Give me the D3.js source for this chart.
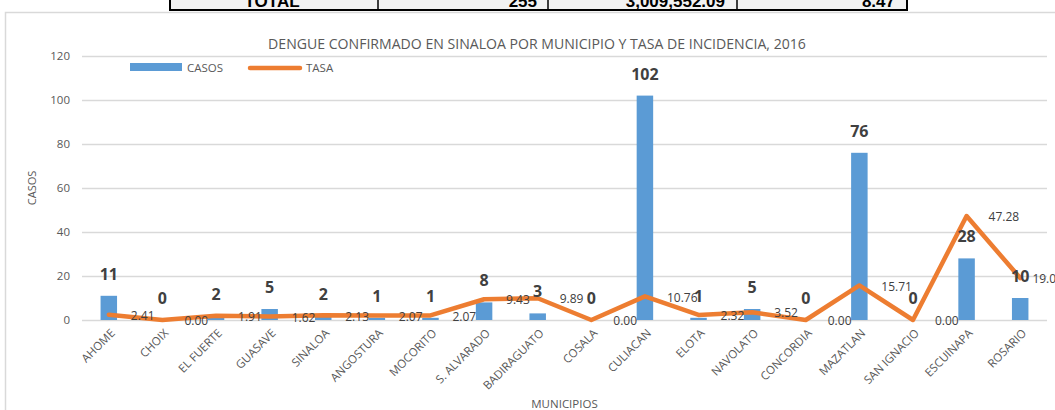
<!DOCTYPE html>
<html><head><meta charset="utf-8">
<script src="https://cdn.jsdelivr.net/npm/d3@7"></script>
<style>
html,body{margin:0;padding:0;background:#fff;}
svg{display:block;font-family:"Open Sans",sans-serif;}
</style></head>
<body>
<svg id="c" width="1055" height="410"></svg>
<script>
const categories = ["AHOME","CHOIX","EL FUERTE","GUASAVE","SINALOA","ANGOSTURA","MOCORITO","S. ALVARADO","BADIRAGUATO","COSALA","CULIACAN","ELOTA","NAVOLATO","CONCORDIA","MAZATLAN","SAN IGNACIO","ESCUINAPA","ROSARIO"];
const casos = [11,0,2,5,2,1,1,8,3,0,102,1,5,0,76,0,28,10];
const tasa = [2.41,0.00,1.91,1.62,2.13,2.07,2.07,9.43,9.89,0.00,10.76,2.32,3.52,0.00,15.71,0.00,47.28,19.05];
const yTicks = [0,20,40,60,80,100,120];
const tableRow = ["TOTAL","255","3,009,552.09","8.47"];
const title = "DENGUE CONFIRMADO EN SINALOA POR MUNICIPIO Y TASA DE INCIDENCIA, 2016";
const seriesNames = ["CASOS","TASA"];

const svg = d3.select("#c");
svg.append("rect").attr("width",1055).attr("height",410).attr("fill","#fff");

// Top (cut-off) table row
const tbl = svg.append("g");
tbl.append("rect").attr("x",170).attr("y",-20).attr("width",737).attr("height",30).attr("fill","#f2f2f2").attr("stroke","#000").attr("stroke-width",2);
[378,548,737].forEach(x=>tbl.append("line").attr("x1",x).attr("x2",x).attr("y1",-20).attr("y2",10).attr("stroke","#000").attr("stroke-width",1.5));
const tx = [{x:272,a:"middle"},{x:537,a:"end"},{x:725,a:"end"},{x:895,a:"end"}];
tableRow.forEach((t,i)=>tbl.append("text").attr("x",tx[i].x).attr("y",7).attr("text-anchor",tx[i].a)
  .attr("font-family","Liberation Sans, Arial, sans-serif").attr("font-weight","bold").attr("font-size",17).attr("fill","#000").text(t));

// chart frame
svg.append("path").attr("d","M5.5,410 V12.5 H1055").attr("fill","none").attr("stroke","#d9d9d9").attr("stroke-width",1.5);

const x0 = 82, x1 = 1047, chartRight = 1063;
const x = d3.scaleBand().domain(categories).range([x0,x1]).paddingInner(0).paddingOuter(0);
const y = d3.scaleLinear().domain([0,120]).range([320,56]);

// gridlines
svg.append("g").selectAll("line").data(yTicks).join("line")
  .attr("x1",x0).attr("x2",x1).attr("y1",d=>y(d)+0.5).attr("y2",d=>y(d)+0.5)
  .attr("stroke","#d9d9d9").attr("stroke-width",1.3);

// y axis labels
const yAxis = d3.axisLeft(y).tickValues(yTicks).tickSize(0).tickPadding(0);
const ya = svg.append("g").attr("transform",`translate(70,0)`).call(yAxis);
ya.select(".domain").remove();
ya.selectAll("text").attr("font-family","Open Sans").attr("font-size",11.5).attr("fill","#595959");

// bars
const bw = x.bandwidth()/3.25;
svg.append("g").selectAll("rect").data(casos).join("rect")
  .attr("x",(d,i)=>x(categories[i])+x.bandwidth()/2-bw/2)
  .attr("y",d=>y(d)).attr("width",bw).attr("height",d=>y(0)-y(d)).attr("fill","#5b9bd5");

// line
const line = d3.line().x((d,i)=>x(categories[i])+x.bandwidth()/2).y(d=>y(d));
svg.append("path").datum(tasa).attr("d",line).attr("fill","none").attr("stroke","#ed7d31").attr("stroke-width",4.5).attr("stroke-linejoin","round").attr("stroke-linecap","round");

// bar labels
svg.append("g").selectAll("text").data(casos).join("text")
  .attr("x",(d,i)=>x(categories[i])+x.bandwidth()/2).attr("y",d=>y(d)-16)
  .attr("text-anchor","middle").attr("font-weight","bold").attr("font-size",16).attr("fill","#404040").text(d=>d);

// line labels (kept inside the chart area like the source chart)
svg.append("g").selectAll("text").data(tasa).join("text")
  .attr("y",d=>y(d)+1).attr("dy","0.35em")
  .attr("font-size",12).attr("fill","#404040").text(d=>d.toFixed(2))
  .each(function(d,i){
    const w = this.getComputedTextLength();
    const px = x(categories[i])+x.bandwidth()/2+22;
    d3.select(this).attr("x", Math.min(px, chartRight - w));
  });

// x labels
svg.append("g").selectAll("text").data(categories).join("text")
  .attr("transform",d=>`translate(${x(d)+x.bandwidth()/2+4},331) rotate(-45)`)
  .attr("text-anchor","end").attr("dy","0.35em").attr("font-size",11.5).attr("fill","#595959").text(d=>d);

// axis titles
svg.append("text").attr("x",(x0+x1)/2).attr("y",408).attr("text-anchor","middle").attr("font-size",11.5).attr("fill","#595959").text("MUNICIPIOS");
svg.append("text").attr("transform","translate(36,188) rotate(-90)").attr("text-anchor","middle").attr("font-size",11).attr("fill","#595959").text("CASOS");

// title
const tt = svg.append("text").attr("x",537).attr("y",49).attr("text-anchor","middle").attr("font-size",13).attr("fill","#595959").text(title);
const w = tt.node().getComputedTextLength();
tt.attr("font-size",13*538/w);

// legend
const lg = svg.append("g");
lg.append("rect").attr("x",130).attr("y",63).attr("width",52).attr("height",8).attr("fill","#5b9bd5");
lg.append("text").attr("x",187).attr("y",68).attr("dy","0.35em").attr("font-size",11.5).attr("fill","#595959").text(seriesNames[0]);
lg.append("line").attr("x1",250).attr("x2",300).attr("y1",68).attr("y2",68).attr("stroke","#ed7d31").attr("stroke-width",4.5).attr("stroke-linecap","round");
lg.append("text").attr("x",306).attr("y",68).attr("dy","0.35em").attr("font-size",11.5).attr("fill","#595959").text(seriesNames[1]);
</script>
</body></html>
